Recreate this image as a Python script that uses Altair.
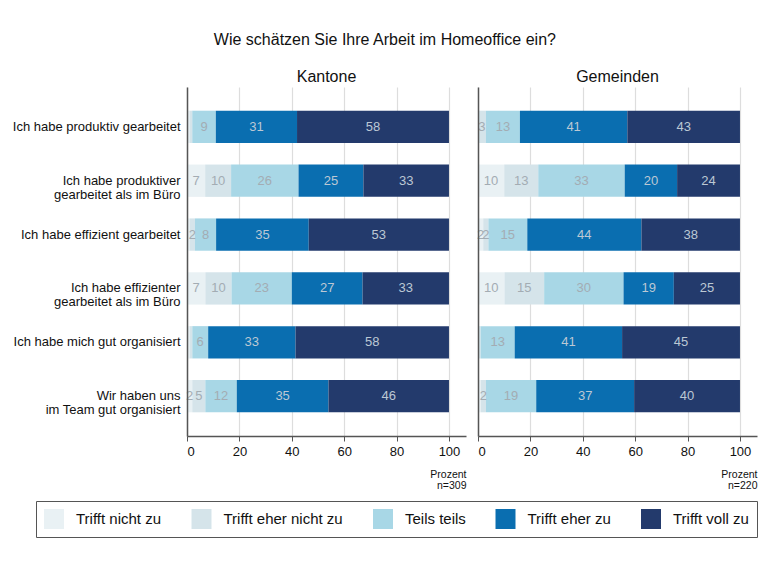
import altair as alt
import pandas as pd

categories = ["Trifft nicht zu", "Trifft eher nicht zu", "Teils teils", "Trifft eher zu", "Trifft voll zu"]
colors = ["#e9f1f4", "#d5e4ea", "#a8d7e6", "#0a6eb0", "#233a6c"]

items = [
    "Ich habe produktiv gearbeitet",
    "Ich habe produktiver\ngearbeitet als im Büro",
    "Ich habe effizient gearbeitet",
    "Ich habe effizienter\ngearbeitet als im Büro",
    "Ich habe mich gut organisiert",
    "Wir haben uns\nim Team gut organisiert",
]

# Kantone (n=309)
k_nicht_zu = [1, 7, 1, 7, 1, 2]
k_eher_nicht_zu = [1, 10, 2, 10, 1, 5]
k_teils = [9, 26, 8, 23, 6, 12]
k_eher_zu = [31, 25, 35, 27, 33, 35]
k_voll_zu = [58, 33, 53, 33, 58, 46]

# Gemeinden (n=220)
g_nicht_zu = [0, 10, 2, 10, 0, 1]
g_eher_nicht_zu = [3, 13, 2, 15, 1, 2]
g_teils = [13, 33, 15, 30, 13, 19]
g_eher_zu = [41, 20, 44, 19, 41, 37]
g_voll_zu = [43, 24, 38, 25, 45, 40]

ticks = [0, 20, 40, 60, 80, 100]

FONT = "Liberation Sans"


def make_df(series):
    rows = []
    for ci, vals in enumerate(series):
        for ii, v in enumerate(vals):
            rows.append({"item": items[ii], "cat": categories[ci], "ord": ci, "value": v})
    return pd.DataFrame(rows)


df_k = make_df([k_nicht_zu, k_eher_nicht_zu, k_teils, k_eher_zu, k_voll_zu])
df_g = make_df([g_nicht_zu, g_eher_nicht_zu, g_teils, g_eher_zu, g_voll_zu])


def panel(df, title, n, first):
    x_scale = alt.Scale(domain=[0, 106.5], nice=False, zero=False)
    y_scale = alt.Scale(domain=items, paddingInner=0.4, paddingOuter=0.44)
    if first:
        y_axis = alt.Axis(
            title=None, ticks=False, domain=True, domainColor="#555555", domainWidth=1.5,
            labelFontSize=13, labelPadding=7, labelLimit=0, labelColor="#111111",
            labelExpr="split(datum.label, '\\n')", labelLineHeight=14, zindex=1,
            labelFont=FONT,
        )
    else:
        y_axis = alt.Axis(
            title=None, ticks=False, labels=False, domain=True, domainColor="#555555",
            domainWidth=1.5, zindex=1,
        )
    x_axis = alt.Axis(
        values=ticks, grid=True, gridColor="#dddddd", gridWidth=1.2,
        domainColor="#555555", domainWidth=1.5, tickColor="#555555", tickSize=5,
        labelFontSize=13, labelColor="#111111", labelPadding=4, labelFont=FONT,
        title=["Prozent", "n=" + str(n)], titleAnchor="end", titleAlign="right",
        titleFontSize=10.5, titleFontWeight="normal", titleColor="#111111",
        titlePadding=11, titleLineHeight=11, titleFont=FONT,
    )
    base = alt.Chart(df)
    bars = base.mark_bar(strokeWidth=0).encode(
        x=alt.X("x0:Q", scale=x_scale, axis=x_axis),
        x2="x1:Q",
        y=alt.Y("item:N", scale=y_scale, axis=y_axis, sort=items),
        color=alt.Color(
            "cat:N",
            scale=alt.Scale(domain=categories, range=colors),
            legend=alt.Legend(
                title=None, orient="none", direction="horizontal", columns=5,
                legendX=-151, legendY=414, symbolType="square", symbolSize=400,
                symbolStrokeWidth=0, labelFontSize=15, labelOffset=12,
                columnPadding=29.5, padding=8, strokeColor="#555555",
                labelFont=FONT, labelColor="#111111", labelLimit=0,
            ),
            sort=categories,
        ),
        order=alt.Order("ord:Q"),
    )
    labels = base.mark_text(fontSize=13, font=FONT).encode(
        x=alt.X("xm:Q", scale=x_scale, axis=x_axis),
        y=alt.Y("item:N", scale=y_scale, axis=y_axis, sort=items),
        text=alt.Text("value:Q", format="d"),
        color=alt.condition("datum.ord >= 3", alt.value("#bcc8d4"), alt.value("#a3acb3")),
    ).transform_filter("datum.value >= 2")
    ch = alt.layer(bars, labels).transform_joinaggregate(
        total="sum(value)", groupby=["item"]
    ).transform_window(
        cum="sum(value)", groupby=["item"], sort=[alt.SortField("ord")], frame=[None, 0]
    ).transform_calculate(
        x0="(datum.cum - datum.value) / datum.total * 100",
        x1="datum.cum / datum.total * 100",
        xm="(datum.cum - datum.value / 2) / datum.total * 100",
    ).properties(
        width=279, height=349,
        title=alt.TitleParams(title, fontSize=16, fontWeight="normal", font=FONT,
                              color="#111111", offset=2, anchor="middle"),
    )
    return ch


left = panel(df_k, "Kantone", 309, True)
right = panel(df_g, "Gemeinden", 220, False)

chart = alt.hconcat(left, right, spacing=10).resolve_scale(
    color="shared"
).resolve_legend(color="shared").properties(
    title=alt.TitleParams(
        "Wie schätzen Sie Ihre Arbeit im Homeoffice ein?", fontSize=16,
        fontWeight="normal", font=FONT, color="#111111", anchor="middle", offset=21,
    ),
    padding={"left": 4, "top": 24, "right": 5, "bottom": 5},
    background="white",
).configure_view(stroke=None)

chart.save("out.html", embed_options={"renderer": "svg", "actions": False})
